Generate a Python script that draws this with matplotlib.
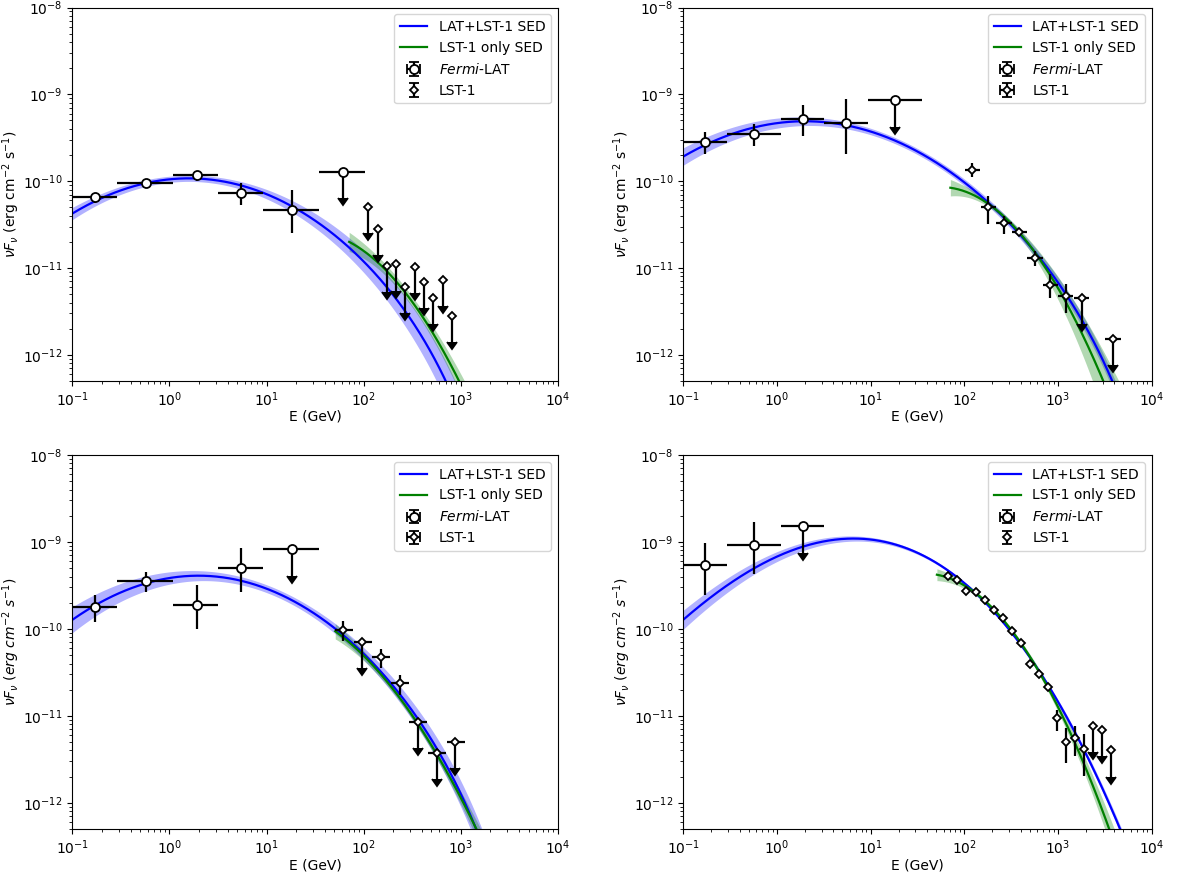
import numpy as np
import matplotlib
matplotlib.use("Agg")
import matplotlib.pyplot as plt

nan = np.nan

# ---------------- data ----------------
# Fermi-LAT bins (shared by all panels)
fermi_E = [0.17, 0.57, 1.9, 5.5, 18.3, 61.0]
fermi_Elo = [0.1, 0.29, 1.1, 3.2, 9.3, 35.0]
fermi_Ehi = [0.29, 1.1, 3.2, 9.3, 35.0, 104.0]

# Panel 1
p1_fermi_F = [6.5e-11, 9.5e-11, 1.17e-10, 7.3e-11, 4.7e-11, 1.27e-10]
p1_fermi_Fhi = [7.3e-11, 1.0e-10, 1.28e-10, 9.6e-11, 7.9e-11, nan]
p1_fermi_Flo = [5.6e-11, 9.0e-11, 1.0e-10, 5.3e-11, 2.5e-11, nan]
p1_fermi_ul = [0, 0, 0, 0, 0, 1]
p1_lst_E = [112, 140, 175, 216, 270, 336, 420, 524, 653, 815]
p1_lst_Elo = None
p1_lst_Ehi = None
p1_lst_F = [5.1e-11, 2.8e-11, 1.06e-11, 1.10e-11, 6.05e-12, 1.02e-11, 6.9e-12, 4.5e-12, 7.3e-12, 2.8e-12]
p1_lst_Fhi = [nan] * 10
p1_lst_Flo = [nan] * 10
p1_lst_ul = [1] * 10

# Panel 2
p2_fermi_F = [2.83e-10, 3.5e-10, 5.16e-10, 4.64e-10, 8.5e-10]
p2_fermi_Fhi = [3.7e-10, 4.56e-10, 7.5e-10, 8.8e-10, nan]
p2_fermi_Flo = [2.03e-10, 2.52e-10, 3.29e-10, 2.08e-10, nan]
p2_fermi_ul = [0, 0, 0, 0, 1]
p2_lst_E = [122, 179, 263, 384, 568, 828, 1208, 1791, 3837]
p2_lst_Elo = [102, 149, 218, 320, 471, 686, 1009, 1483, 3177]
p2_lst_Ehi = [147, 218, 320, 463, 686, 1009, 1459, 2163, 4667]
p2_lst_F = [1.36e-10, 4.98e-11, 3.26e-11, 2.62e-11, 1.30e-11, 6.38e-12, 4.81e-12, 4.56e-12, 1.54e-12]
p2_lst_Fhi = [1.63e-10, 6.7e-11, 3.96e-11, 2.91e-11, 1.57e-11, 8.45e-12, 6.49e-12, nan, nan]
p2_lst_Flo = [1.11e-10, 3.2e-11, 2.44e-11, 2.33e-11, 1.05e-11, 4.56e-12, 3.07e-12, nan, nan]
p2_lst_ul = [0, 0, 0, 0, 0, 0, 0, 1, 1]

# Panel 3
p3_fermi_F = [1.81e-10, 3.53e-10, 1.9e-10, 5.07e-10, 8.2e-10]
p3_fermi_Fhi = [2.48e-10, 4.48e-10, 3.18e-10, 8.5e-10, nan]
p3_fermi_Flo = [1.2e-10, 2.66e-10, 1.0e-10, 2.66e-10, nan]
p3_fermi_ul = [0, 0, 0, 0, 1]
p3_lst_E = [62, 97, 151, 236, 367, 566, 882]
p3_lst_Elo = [51, 79, 123, 191, 297, 465, 720]
p3_lst_Ehi = [77, 121, 187, 292, 454, 708, 1102]
p3_lst_F = [9.75e-11, 7.1e-11, 4.77e-11, 2.37e-11, 8.45e-12, 3.76e-12, 4.97e-12]
p3_lst_Fhi = [1.22e-10, nan, 5.9e-11, 2.93e-11, nan, nan, nan]
p3_lst_Flo = [7.2e-11, nan, 3.56e-11, 1.76e-11, nan, nan, nan]
p3_lst_ul = [0, 1, 0, 0, 1, 1, 1]

# Panel 4
p4_fermi_F = [5.44e-10, 9.24e-10, 1.51e-9]
p4_fermi_Fhi = [9.7e-10, 1.68e-9, nan]
p4_fermi_Flo = [2.48e-10, 4.28e-10, nan]
p4_fermi_ul = [0, 0, 1]
p4_lst_E = [67.5, 84, 105, 132, 166, 207, 261, 323, 403, 499, 627, 776, 968,
            1208, 1518, 1895, 2364, 2951, 3681]
p4_lst_Elo = None
p4_lst_Ehi = None
p4_lst_F = [4.03e-10, 3.66e-10, 2.71e-10, 2.64e-10, 2.17e-10, 1.65e-10, 1.33e-10,
            9.48e-11, 6.9e-11, 3.96e-11, 3.04e-11, 2.14e-11, 9.48e-12, 5.07e-12,
            5.54e-12, 4.14e-12, 7.74e-12, 6.9e-12, 4.0e-12]
p4_lst_Fhi = [4.2e-10, 3.8e-10, 2.82e-10, 2.75e-10, 2.26e-10, 1.72e-10, 1.39e-10,
              9.9e-11, 7.25e-11, 4.2e-11, 3.25e-11, 2.32e-11, 1.16e-11, 7.28e-12,
              7.74e-12, 6.26e-12, nan, nan, nan]
p4_lst_Flo = [3.86e-10, 3.52e-10, 2.6e-10, 2.53e-10, 2.08e-10, 1.58e-10, 1.27e-10,
              9.06e-11, 6.55e-11, 3.72e-11, 2.83e-11, 1.96e-11, 6.67e-12, 2.88e-12,
              3.44e-12, 2.03e-12, nan, nan, nan]
p4_lst_ul = [0] * 16 + [1, 1, 1]

# SED models: curved power law in log-log (F_ref at E_ref, slope, curvature,
# third-order term) with an exponential cut-off
# joint LAT+LST-1 fits
joint_Fref = [1.08e-10, 4.9e-10, 4.1e-10, 1.09e-9]
joint_Eref = [1.6, 2.0, 2.0, 5.55]
joint_slope = [0.0, 0.0, 0.0, 0.0486]
joint_curv = [0.28, 0.24, 0.30, 0.327]
joint_cub = [0.0, 0.0, 0.0, 0.0279]
joint_Ecut = [800.0, 4000.0, 1350.0, np.inf]
joint_Emin = [0.1, 0.1, 0.1, 0.1]
# band half-widths (dex): w0 + w2*(logE - logEpiv)^2
joint_w0 = [0.035, 0.035, 0.045, 0.015]
joint_w2 = [0.0266, 0.0108, 0.026, 0.0105]
joint_piv = [0.147, 1.45, 1.0, 2.0]

# LST-1 only fits
lst_Fref = [2.0e-11, 8.4e-11, 9.4e-11, 4.2e-10]
lst_Eref = [71.0, 71.0, 51.0, 51.0]
lst_slope = [-0.588, -0.157, -0.808, -0.199]
lst_curv = [0.731, 0.739, 0.52, 0.756]
lst_cub = [0.0, 0.0, 0.0, 0.0]
lst_Ecut = [np.inf, np.inf, np.inf, np.inf]
lst_Emin = [71.0, 71.0, 51.0, 51.0]
lst_w0 = [0.06, 0.03, 0.04, 0.02]
lst_w2 = [0.167, 0.25, 0.10, 0.10]
lst_piv = [2.4, 2.36, 2.4, 2.4]

panels = [
    (p1_fermi_F, p1_fermi_Fhi, p1_fermi_Flo, p1_fermi_ul,
     p1_lst_E, p1_lst_Elo, p1_lst_Ehi, p1_lst_F, p1_lst_Fhi, p1_lst_Flo, p1_lst_ul),
    (p2_fermi_F, p2_fermi_Fhi, p2_fermi_Flo, p2_fermi_ul,
     p2_lst_E, p2_lst_Elo, p2_lst_Ehi, p2_lst_F, p2_lst_Fhi, p2_lst_Flo, p2_lst_ul),
    (p3_fermi_F, p3_fermi_Fhi, p3_fermi_Flo, p3_fermi_ul,
     p3_lst_E, p3_lst_Elo, p3_lst_Ehi, p3_lst_F, p3_lst_Fhi, p3_lst_Flo, p3_lst_ul),
    (p4_fermi_F, p4_fermi_Fhi, p4_fermi_Flo, p4_fermi_ul,
     p4_lst_E, p4_lst_Elo, p4_lst_Ehi, p4_lst_F, p4_lst_Fhi, p4_lst_Flo, p4_lst_ul),
]

ylabels = [r'$\nu F_\nu$ (erg cm$^{-2}$ s$^{-1}$)',
           r'$\nu F_\nu$ (erg cm$^{-2}$ s$^{-1}$)',
           r'$\nu F_{\nu}$ $(erg\ cm^{-2}\ s^{-1})$',
           r'$\nu F_{\nu}$ $(erg\ cm^{-2}\ s^{-1})$']

# ---------------- plotting ----------------
UL_FRAC = 0.5
plt.rcParams['lines.markersize'] = 6.5  # size of the upper-limit arrow heads


def logmodel(E, Fref, Eref, slope, curv, cub, Ecut):
    u = np.log10(E / Eref)
    return (np.log10(Fref) + slope * u - curv * u ** 2 - cub * u ** 3
            - np.log10(np.e) * E / Ecut)


def plot_model(ax, i, Fref, Eref, slope, curv, cub, Ecut, Emin, w0, w2, piv, color, label):
    E = np.logspace(np.log10(Emin[i]), 4, 600)
    lf = logmodel(E, Fref[i], Eref[i], slope[i], curv[i], cub[i], Ecut[i])
    hw = w0[i] + w2[i] * (np.log10(E) - piv[i]) ** 2
    ax.fill_between(E, 10 ** (lf - hw), 10 ** (lf + hw), color=color, alpha=0.3, lw=0)
    ax.plot(E, 10 ** lf, color=color, lw=1.6, label=label)


def plot_points(ax, E, Elo, Ehi, F, Fhi, Flo, ul, marker, ms, label):
    E = np.asarray(E, float)
    F = np.asarray(F, float)
    ul = np.asarray(ul, bool)
    Fhi = np.asarray(Fhi, float)
    Flo = np.asarray(Flo, float)
    ylo = np.where(ul, UL_FRAC * F, F - Flo)
    yhi = np.where(ul, 0.0, Fhi - F)
    if Elo is not None:
        xerr = [E - np.asarray(Elo, float), np.asarray(Ehi, float) - E]
    else:
        xerr = None
    ax.errorbar(E, F, xerr=xerr, yerr=[ylo, yhi], uplims=ul, fmt=marker,
                ms=ms, mfc='white', mec='black', mew=1.3, ecolor='black',
                elinewidth=1.6, color='black', label=label, zorder=5)


fig = plt.figure(figsize=(12, 8.73), dpi=100)
positions = [
    [0.0603, 0.5636, 0.4045, 0.4278],
    [0.5694, 0.5636, 0.3903, 0.4278],
    [0.0603, 0.0504, 0.4045, 0.4284],
    [0.5694, 0.0504, 0.3903, 0.4284],
]

for i, pos in enumerate(positions):
    ax = fig.add_axes(pos)
    (fF, fFhi, fFlo, ful, lE, lElo, lEhi, lF, lFhi, lFlo, lul) = panels[i]
    n = len(fF)
    plot_model(ax, i, joint_Fref, joint_Eref, joint_slope, joint_curv, joint_cub,
               joint_Ecut, joint_Emin, joint_w0, joint_w2, joint_piv,
               'blue', 'LAT+LST-1 SED')
    plot_model(ax, i, lst_Fref, lst_Eref, lst_slope, lst_curv, lst_cub,
               lst_Ecut, lst_Emin, lst_w0, lst_w2, lst_piv,
               'green', 'LST-1 only SED')
    plot_points(ax, fermi_E[:n], fermi_Elo[:n], fermi_Ehi[:n], fF, fFhi, fFlo, ful,
                'o', 6.5, r'$\it{Fermi}$-LAT')
    plot_points(ax, lE, lElo, lEhi, lF, lFhi, lFlo, lul, 'D', 3.9, 'LST-1')
    ax.set_xscale('log')
    ax.set_yscale('log')
    ax.set_xlim(0.1, 1e4)
    ax.set_ylim(5e-13, 1e-8)
    ax.set_xlabel('E (GeV)', labelpad=0.5)
    ax.set_ylabel(ylabels[i], labelpad=0.5)
    ax.legend(loc='upper right')

fig.savefig('out.png', dpi=100)
